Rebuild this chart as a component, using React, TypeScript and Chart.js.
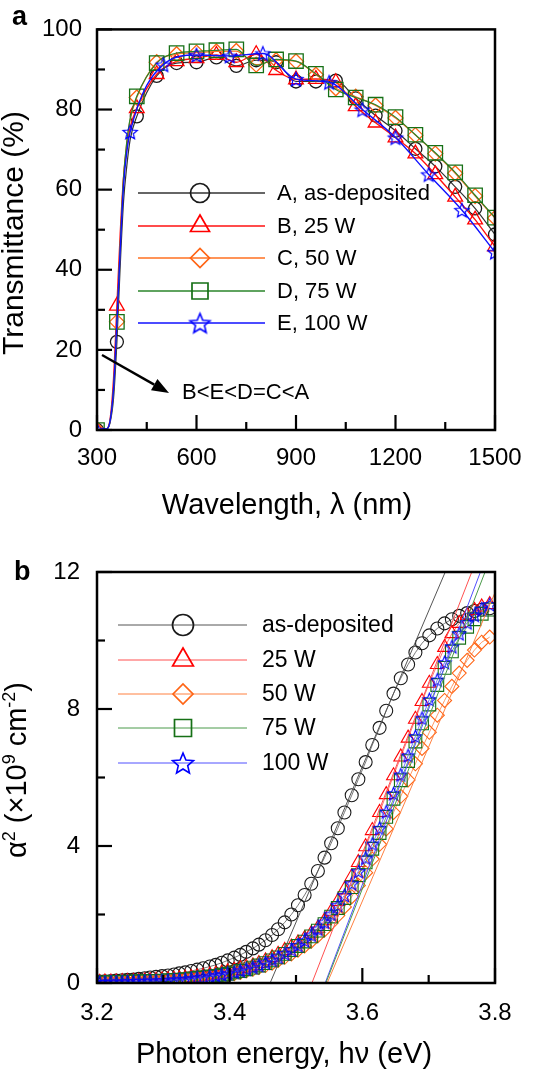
import React, { useEffect, useRef } from "react";
import { Chart, registerables } from "chart.js";
Chart.register(...registerables);

const FONT = '"Liberation Sans", Arial, Helvetica, sans-serif';

// ---------------- Panel a : transmittance ----------------
const aWavelengths = [300, 360, 420, 480, 540, 600, 660, 720, 780, 840, 900, 960, 1020, 1080, 1140, 1200, 1260, 1320, 1380, 1440, 1500];
const aAsDeposited = [0, 22, 78.3, 88.4, 91.6, 91.8, 93.0, 90.9, 92.3, 91.8, 87.0, 87.0, 87.2, 82.8, 78.5, 74.7, 70.2, 65.8, 60.7, 55.3, 48.8];
const a25W = [0, 31, 80.3, 88.8, 92.0, 92.8, 93.6, 91.8, 93.8, 89.8, 87.5, 87.6, 86.8, 80.8, 76.7, 73.0, 69.0, 63.8, 58.2, 52.5, 45.8];
const a50W = [0, 27, 83.0, 91.8, 93.8, 94.2, 94.5, 94.6, 91.2, 92.3, 92.0, 88.7, 85.3, 83.2, 81.0, 77.9, 73.6, 69.0, 64.1, 58.4, 52.9];
const a75W = [0, 27, 83.3, 91.6, 94.1, 94.5, 94.8, 95.0, 91.0, 92.5, 92.1, 88.9, 85.0, 83.0, 81.2, 78.1, 73.7, 69.2, 64.3, 58.6, 53.0];
const a100WWavelengths = [300, 400, 500, 600, 700, 800, 900, 1000, 1100, 1200, 1300, 1400, 1500];
const a100W = [0, 74.4, 91.2, 93.6, 93.4, 94.0, 87.6, 86.8, 80.0, 73.0, 63.8, 54.9, 44.4];
// absorption-edge points of the curves (line only, no marker)
const aEdgeWavelengths = [330, 340, 350, 370, 380, 390, 400];
const aEdgeAsDeposited = [0.3, 2.0, 8.0, 41, 57, 66, 72.5];
const aEdge25W = [0.3, 3.0, 13, 49, 63, 70.5, 75.5];
const aEdge50W = [0.3, 2.5, 10.5, 46, 63, 72, 77.5];
const aEdge75W = [0.3, 2.5, 10.5, 46, 63, 72, 77.8];
const aEdge100WWavelengths = [330, 340, 350, 360, 370, 380, 390];
const aEdge100W = [0.3, 2.5, 10.5, 27, 45, 61, 69.5];

const aXTicks = [300, 600, 900, 1200, 1500];
const aXMinorTicks = [450, 750, 1050, 1350];
const aYTicks = [0, 20, 40, 60, 80, 100];
const aYMinorTicks = [10, 30, 50, 70, 90];
const aLegendLabels = ["A, as-deposited", "B, 25 W", "C, 50 W", "D, 75 W", "E, 100 W"];
const aNote = "B<E<D=C<A";

// ---------------- Panel b : alpha^2 vs photon energy ----------------
const bEnergy = [3.196, 3.204, 3.212, 3.221, 3.229, 3.238, 3.246, 3.255, 3.263, 3.272, 3.280, 3.289, 3.298, 3.307, 3.316, 3.324, 3.333, 3.342, 3.351, 3.360, 3.370, 3.379, 3.388, 3.397, 3.407, 3.416, 3.425, 3.435, 3.444, 3.454, 3.464, 3.473, 3.483, 3.493, 3.503, 3.513, 3.523, 3.533, 3.543, 3.553, 3.563, 3.573, 3.584, 3.594, 3.605, 3.615, 3.626, 3.636, 3.647, 3.658, 3.669, 3.680, 3.690, 3.701, 3.713, 3.724, 3.735, 3.746, 3.758, 3.769, 3.780, 3.792];
const bAsDeposited = [0.03, 0.04, 0.05, 0.06, 0.07, 0.08, 0.09, 0.10, 0.12, 0.14, 0.16, 0.18, 0.20, 0.22, 0.25, 0.28, 0.31, 0.35, 0.39, 0.43, 0.48, 0.53, 0.59, 0.66, 0.74, 0.82, 0.91, 1.01, 1.12, 1.25, 1.40, 1.57, 1.77, 2.00, 2.27, 2.57, 2.90, 3.27, 3.66, 4.08, 4.52, 4.98, 5.48, 5.95, 6.45, 6.95, 7.45, 7.95, 8.45, 8.90, 9.30, 9.65, 9.92, 10.15, 10.35, 10.50, 10.62, 10.72, 10.80, 10.86, 10.90, 10.94];
const b25W = [0.02, 0.02, 0.03, 0.03, 0.03, 0.04, 0.04, 0.05, 0.05, 0.06, 0.07, 0.08, 0.09, 0.10, 0.11, 0.12, 0.14, 0.16, 0.18, 0.20, 0.23, 0.26, 0.29, 0.33, 0.37, 0.42, 0.46, 0.50, 0.57, 0.65, 0.74, 0.84, 0.95, 1.05, 1.17, 1.30, 1.44, 1.60, 1.82, 2.08, 2.38, 2.72, 3.10, 3.52, 3.98, 4.45, 4.98, 5.50, 6.05, 6.60, 7.15, 7.70, 8.22, 8.75, 9.30, 9.80, 10.20, 10.50, 10.72, 10.88, 10.98, 11.05];
const b50W = [0.01, 0.01, 0.02, 0.02, 0.02, 0.03, 0.03, 0.03, 0.04, 0.04, 0.05, 0.05, 0.06, 0.07, 0.08, 0.09, 0.10, 0.11, 0.13, 0.15, 0.17, 0.19, 0.21, 0.24, 0.27, 0.31, 0.35, 0.40, 0.45, 0.51, 0.58, 0.66, 0.75, 0.85, 0.96, 1.08, 1.22, 1.38, 1.55, 1.75, 1.97, 2.22, 2.52, 2.85, 3.22, 3.62, 4.05, 4.50, 4.98, 5.45, 5.93, 6.40, 6.85, 7.32, 7.82, 8.25, 8.66, 9.05, 9.42, 9.72, 9.95, 10.10];
const b75W = [0.02, 0.02, 0.02, 0.03, 0.03, 0.03, 0.04, 0.04, 0.05, 0.05, 0.06, 0.06, 0.07, 0.08, 0.09, 0.10, 0.11, 0.13, 0.15, 0.17, 0.19, 0.21, 0.24, 0.27, 0.31, 0.35, 0.40, 0.45, 0.51, 0.58, 0.66, 0.75, 0.85, 0.96, 1.08, 1.21, 1.36, 1.53, 1.72, 1.94, 2.19, 2.48, 2.80, 3.15, 3.52, 3.92, 4.38, 4.85, 5.38, 5.92, 6.48, 7.05, 7.58, 8.13, 8.70, 9.20, 9.68, 10.08, 10.40, 10.62, 10.78, 10.90];
const b100W = [0.02, 0.02, 0.02, 0.03, 0.03, 0.03, 0.04, 0.04, 0.05, 0.05, 0.06, 0.06, 0.07, 0.08, 0.09, 0.10, 0.11, 0.13, 0.15, 0.17, 0.20, 0.22, 0.25, 0.28, 0.32, 0.36, 0.41, 0.46, 0.52, 0.59, 0.67, 0.76, 0.86, 0.97, 1.10, 1.24, 1.40, 1.58, 1.78, 2.01, 2.27, 2.56, 2.90, 3.26, 3.65, 4.06, 4.52, 5.00, 5.53, 6.08, 6.64, 7.20, 7.73, 8.28, 8.85, 9.36, 9.82, 10.20, 10.52, 10.74, 10.92, 11.05];
// linear extrapolation lines (as-deposited, 25, 50, 75, 100 W)
const bFitStartEnergy = [3.461, 3.524, 3.547, 3.545, 3.544];
const bFitEndEnergy = [3.725, 3.765, 3.800, 3.785, 3.778];
const bFitEndValue = [12, 12, 11.4, 12, 12];

const bXTicks = [3.2, 3.4, 3.6, 3.8];
const bXMinorTicks = [3.3, 3.5, 3.7];
const bYTicks = [0, 4, 8, 12];
const bYMinorTicks = [2, 6, 10];
const bLegendLabels = ["as-deposited", "25 W", "50 W", "75 W", "100 W"];

// ---------------- styling ----------------
const colA = "#1a1a1a";
const colB = "#ff0000";
const colC = "#ff6414";
const colD = "#167016";
const colE = "#0000ff";
const lineColsA = ["#333333", "#ff1010", "#ff7020", "#2a842a", "#1010ff"];
const lineColsB = ["#555555", "#ff5050", "#ff8040", "#4a9a4a", "#5050ff"];
const markerCols = [colA, colB, colC, colD, colE];

function makeStar(r: number, color: string, lw: number): HTMLCanvasElement {
  const size = Math.ceil(2 * r + lw * 2 + 4);
  const c = document.createElement("canvas");
  c.width = size;
  c.height = size;
  const g = c.getContext("2d")!;
  g.strokeStyle = color;
  g.lineWidth = lw;
  g.lineJoin = "miter";
  const cx = size / 2;
  const cy = size / 2 + r * 0.1;
  g.beginPath();
  for (let i = 0; i < 10; i++) {
    const ang = -Math.PI / 2 + (i * Math.PI) / 5;
    const rr = i % 2 === 0 ? r : r * 0.45;
    const x = cx + rr * Math.cos(ang);
    const y = cy + rr * Math.sin(ang);
    if (i === 0) g.moveTo(x, y);
    else g.lineTo(x, y);
  }
  g.closePath();
  g.stroke();
  return c;
}

function drawMarker(ctx: CanvasRenderingContext2D, style: any, x: number, y: number, r: number, color: string, lw: number) {
  ctx.save();
  if (typeof style !== "string") {
    ctx.drawImage(style, x - style.width / 2, y - style.height / 2);
    ctx.restore();
    return;
  }
  ctx.strokeStyle = color;
  ctx.lineWidth = lw;
  ctx.beginPath();
  if (style === "circle") {
    ctx.arc(x, y, r, 0, Math.PI * 2);
  } else if (style === "triangle") {
    for (let i = 0; i < 3; i++) {
      const a = (i * 2 * Math.PI) / 3;
      const px = x + Math.sin(a) * r;
      const py = y - Math.cos(a) * r;
      if (i === 0) ctx.moveTo(px, py);
      else ctx.lineTo(px, py);
    }
    ctx.closePath();
  } else if (style === "rectRot") {
    ctx.moveTo(x - r, y);
    ctx.lineTo(x, y - r);
    ctx.lineTo(x + r, y);
    ctx.lineTo(x, y + r);
    ctx.closePath();
  } else if (style === "rect") {
    ctx.rect(x - r, y - r, 2 * r, 2 * r);
  }
  ctx.stroke();
  ctx.restore();
}

type Seg = { t: string; sup?: boolean };
function drawRich(ctx: CanvasRenderingContext2D, segs: Seg[], cx: number, cy: number, size: number, vertical: boolean) {
  ctx.save();
  ctx.translate(cx, cy);
  if (vertical) ctx.rotate(-Math.PI / 2);
  ctx.fillStyle = "#000";
  ctx.textAlign = "left";
  ctx.textBaseline = "alphabetic";
  const parts = segs.map((s) => {
    const fs = s.sup ? size * 0.62 : size;
    ctx.font = `${fs}px ${FONT}`;
    return { ...s, fs, w: ctx.measureText(s.t).width };
  });
  const total = parts.reduce((a, p) => a + p.w, 0);
  let x = -total / 2;
  for (const p of parts) {
    ctx.font = `${p.fs}px ${FONT}`;
    ctx.fillText(p.t, x, p.sup ? -size * 0.38 : 0);
    x += p.w;
  }
  ctx.restore();
}

const decorPlugin = {
  id: "decor",
  afterDraw(chart: any, _args: any, o: any) {
    const ctx: CanvasRenderingContext2D = chart.ctx;
    const { left, right, top, bottom } = chart.chartArea;
    const xs = chart.scales.x;
    const ys = chart.scales.y;
    ctx.save();
    ctx.strokeStyle = "#000";
    ctx.lineWidth = 2.2;
    ctx.lineCap = "butt";
    const seg = (x1: number, y1: number, x2: number, y2: number) => {
      ctx.beginPath();
      ctx.moveTo(x1, y1);
      ctx.lineTo(x2, y2);
      ctx.stroke();
    };
    o.xMajor.forEach((v: number) => { const p = xs.getPixelForValue(v); seg(p, bottom, p, bottom - 15); });
    o.xMinor.forEach((v: number) => { const p = xs.getPixelForValue(v); seg(p, bottom, p, bottom - 8); });
    o.yMajor.forEach((v: number) => { const p = ys.getPixelForValue(v); seg(left, p, left + 15, p); });
    o.yMinor.forEach((v: number) => { const p = ys.getPixelForValue(v); seg(left, p, left + 8, p); });
    ctx.lineWidth = 2.5;
    ctx.strokeRect(left, top, right - left, bottom - top);

    // axis titles
    drawRich(ctx, o.xTitle.segs, o.xTitle.x, o.xTitle.y, o.xTitle.size, false);
    drawRich(ctx, o.yTitle.segs, o.yTitle.x, o.yTitle.y, o.yTitle.size, true);

    // panel letter
    ctx.fillStyle = "#000";
    ctx.font = `bold 27px ${FONT}`;
    ctx.textAlign = "left";
    ctx.textBaseline = "alphabetic";
    ctx.fillText(o.letter.text, o.letter.x, o.letter.y);

    // legend
    const lg = o.legend;
    lg.items.forEach((it: any, i: number) => {
      const y = lg.rows[i];
      ctx.strokeStyle = it.line;
      ctx.lineWidth = lg.lineWidth;
      seg(lg.x0, y, lg.x1, y);
      drawMarker(ctx, it.style, lg.xm, y, it.r, it.color, lg.markerWidth);
      ctx.fillStyle = "#000";
      ctx.font = `${lg.font}px ${FONT}`;
      ctx.textAlign = "left";
      ctx.textBaseline = "middle";
      ctx.fillText(it.label, lg.xt, y + 1);
    });

    // annotation arrow
    if (o.note) {
      const n = o.note;
      const dx = n.x2 - n.x1;
      const dy = n.y2 - n.y1;
      const len = Math.hypot(dx, dy);
      const ux = dx / len;
      const uy = dy / len;
      const hl = 17;
      const hw = 6.5;
      ctx.strokeStyle = "#000";
      ctx.lineWidth = 2.4;
      seg(n.x1, n.y1, n.x2 - ux * hl, n.y2 - uy * hl);
      ctx.fillStyle = "#000";
      ctx.beginPath();
      ctx.moveTo(n.x2, n.y2);
      ctx.lineTo(n.x2 - ux * hl - uy * hw, n.y2 - uy * hl + ux * hw);
      ctx.lineTo(n.x2 - ux * hl + uy * hw, n.y2 - uy * hl - ux * hw);
      ctx.closePath();
      ctx.fill();
      ctx.font = `22px ${FONT}`;
      ctx.textAlign = "left";
      ctx.textBaseline = "middle";
      ctx.fillText(n.text, n.tx, n.ty);
    }
    ctx.restore();
  },
};

function scale(min: number, max: number, ticks: number[], fmt: (v: number) => string, padding: number, fit: (s: any) => void) {
  return {
    type: "linear" as const,
    min,
    max,
    grid: { display: false, drawTicks: false },
    border: { display: false },
    ticks: {
      color: "#000",
      font: { family: FONT, size: 24 },
      padding,
      autoSkip: false,
      maxRotation: 0,
      callback: (v: any) => fmt(Number(v)),
    },
    afterBuildTicks: (s: any) => {
      s.ticks = ticks.map((v) => ({ value: v }));
    },
    afterFit: fit,
  };
}

function buildCurve(markW: number[], markV: number[], edgeW: number[], edgeV: number[], r: number) {
  const pts: { x: number; y: number; m: boolean }[] = [];
  markW.forEach((w, i) => pts.push({ x: w, y: markV[i], m: true }));
  edgeW.forEach((w, i) => pts.push({ x: w, y: edgeV[i], m: false }));
  pts.sort((a, b) => a.x - b.x);
  return { data: pts.map((p) => ({ x: p.x, y: p.y })), radius: pts.map((p) => (p.m ? r : 0)) };
}

export default function App() {
  const refA = useRef<HTMLCanvasElement>(null);
  const refB = useRef<HTMLCanvasElement>(null);

  useEffect(() => {
    const starA = makeStar(7.5, colE, 1.2);
    const starB = makeStar(7, colE, 1.1);
    const starLegA = makeStar(10.5, colE, 1.6);
    const starLegB = makeStar(11, colE, 1.6);

    // ---------- chart a ----------
    const aSeries = [
      { lab: aLegendLabels[0], c: buildCurve(aWavelengths, aAsDeposited, aEdgeWavelengths, aEdgeAsDeposited, 6.5), style: "circle", order: 5, lw: 1.2 },
      { lab: aLegendLabels[1], c: buildCurve(aWavelengths, a25W, aEdgeWavelengths, aEdge25W, 8.5), style: "triangle", order: 4, lw: 1.4 },
      { lab: aLegendLabels[2], c: buildCurve(aWavelengths, a50W, aEdgeWavelengths, aEdge50W, 7.5), style: "rectRot", order: 3, lw: 1.2 },
      { lab: aLegendLabels[3], c: buildCurve(aWavelengths, a75W, aEdgeWavelengths, aEdge75W, 10.2), style: "rect", order: 2, lw: 1.2 },
      { lab: aLegendLabels[4], c: buildCurve(a100WWavelengths, a100W, aEdge100WWavelengths, aEdge100W, 7.5), style: starA as any, order: 1, lw: 1.4 },
    ];
    const chartA = new Chart(refA.current!, {
      type: "line",
      data: {
        datasets: aSeries.map((s, i) => ({
          label: s.lab,
          data: s.c.data,
          borderColor: lineColsA[i],
          borderWidth: s.lw,
          pointStyle: s.style,
          pointRadius: s.c.radius,
          pointBorderColor: markerCols[i],
          pointBackgroundColor: "rgba(0,0,0,0)",
          pointBorderWidth: 1.3,
          cubicInterpolationMode: "monotone",
          fill: false,
          order: s.order,
        })),
      } as any,
      options: {
        animation: false,
        responsive: false,
        devicePixelRatio: 1,
        events: [],
        layout: { padding: { top: 17, right: 47, left: 0, bottom: 0 } },
        scales: {
          x: scale(300, 1500, aXTicks, (v) => String(v), 14, (s: any) => { s.height = 110; }),
          y: scale(0, 100, aYTicks, (v) => String(v), 15, (s: any) => { s.width = 97; }),
        },
        plugins: {
          legend: { display: false },
          tooltip: { enabled: false },
          decor: {
            xMajor: aXTicks,
            xMinor: aXMinorTicks,
            yMajor: aYTicks,
            yMinor: aYMinorTicks,
            xTitle: { segs: [{ t: "Wavelength, λ (nm)" }], x: 287, y: 514, size: 29 },
            yTitle: { segs: [{ t: "Transmittance (%)" }], x: 23, y: 233, size: 30 },
            letter: { text: "a", x: 12, y: 25 },
            legend: {
              rows: [193, 226, 258, 291, 323],
              x0: 138, x1: 265, xm: 200, xt: 277, font: 22, lineWidth: 1.3, markerWidth: 1.7,
              items: [
                { label: aLegendLabels[0], style: "circle", r: 9.5, color: colA, line: lineColsA[0] },
                { label: aLegendLabels[1], style: "triangle", r: 11, color: colB, line: lineColsA[1] },
                { label: aLegendLabels[2], style: "rectRot", r: 9.5, color: colC, line: lineColsA[2] },
                { label: aLegendLabels[3], style: "rect", r: 8, color: colD, line: lineColsA[3] },
                { label: aLegendLabels[4], style: starLegA, r: 10.5, color: colE, line: lineColsA[4] },
              ],
            },
            note: { x1: 102, y1: 355, x2: 169, y2: 393, text: aNote, tx: 182, ty: 393 },
          },
        } as any,
      },
      plugins: [decorPlugin],
    } as any);

    // ---------- chart b ----------
    const bVals = [bAsDeposited, b25W, b50W, b75W, b100W];
    const bStyles: any[] = ["circle", "triangle", "rectRot", "rect", starB];
    const bRadii = [6.5, 8, 7, 9, 7];
    const bOrder = [6, 5, 4, 3, 2];
    const seriesDs = bVals.map((vals, i) => ({
      label: bLegendLabels[i],
      data: bEnergy.map((e, k) => ({ x: e, y: vals[k] })),
      borderColor: lineColsB[i],
      borderWidth: 0.8,
      pointStyle: bStyles[i],
      pointRadius: bRadii[i],
      pointBorderColor: markerCols[i],
      pointBackgroundColor: "rgba(0,0,0,0)",
      pointBorderWidth: 1.1,
      tension: 0,
      fill: false,
      order: bOrder[i],
    }));
    const fitDs = bFitStartEnergy.map((s, i) => ({
      label: "fit " + bLegendLabels[i],
      data: [{ x: s, y: 0 }, { x: bFitEndEnergy[i], y: bFitEndValue[i] }],
      borderColor: lineColsB[i],
      borderWidth: 1,
      pointRadius: 0,
      fill: false,
      order: 1,
    }));
    const chartB = new Chart(refB.current!, {
      type: "line",
      data: { datasets: [...seriesDs, ...fitDs] } as any,
      options: {
        animation: false,
        responsive: false,
        devicePixelRatio: 1,
        events: [],
        layout: { padding: { top: 32, right: 47, left: 0, bottom: 0 } },
        scales: {
          x: scale(3.2, 3.8, bXTicks, (v) => v.toFixed(1), 16, (s: any) => { s.height = 89; }),
          y: scale(0, 12, bYTicks, (v) => String(v), 17, (s: any) => { s.width = 97; }),
        },
        plugins: {
          legend: { display: false },
          tooltip: { enabled: false },
          decor: {
            xMajor: bXTicks,
            xMinor: bXMinorTicks,
            yMajor: bYTicks,
            yMinor: bYMinorTicks,
            xTitle: { segs: [{ t: "Photon energy, hν (eV)" }], x: 284, y: 523, size: 29 },
            yTitle: {
              segs: [{ t: "α" }, { t: "2", sup: true }, { t: " (×10" }, { t: "9", sup: true }, { t: " cm" }, { t: "-2", sup: true }, { t: ")" }],
              x: 26, y: 230, size: 29,
            },
            letter: { text: "b", x: 14, y: 40 },
            legend: {
              rows: [85, 120, 154, 188, 223],
              x0: 118, x1: 247, xm: 183, xt: 262, font: 23, lineWidth: 1, markerWidth: 1.7,
              items: [
                { label: bLegendLabels[0], style: "circle", r: 10.5, color: colA, line: lineColsB[0] },
                { label: bLegendLabels[1], style: "triangle", r: 12, color: colB, line: lineColsB[1] },
                { label: bLegendLabels[2], style: "rectRot", r: 10, color: colC, line: lineColsB[2] },
                { label: bLegendLabels[3], style: "rect", r: 8.5, color: colD, line: lineColsB[3] },
                { label: bLegendLabels[4], style: starLegB, r: 11, color: colE, line: lineColsB[4] },
              ],
            },
            note: null,
          },
        } as any,
      },
      plugins: [decorPlugin],
    } as any);

    return () => {
      chartA.destroy();
      chartB.destroy();
    };
  }, []);

  return (
    <div style={{ position: "absolute", left: 0, top: 0, width: 542, height: 1072, background: "#fff" }}>
      <canvas ref={refA} width={542} height={540} style={{ position: "absolute", left: 0, top: 0, width: 542, height: 540 }} />
      <canvas ref={refB} width={542} height={532} style={{ position: "absolute", left: 0, top: 540, width: 542, height: 532 }} />
    </div>
  );
}
